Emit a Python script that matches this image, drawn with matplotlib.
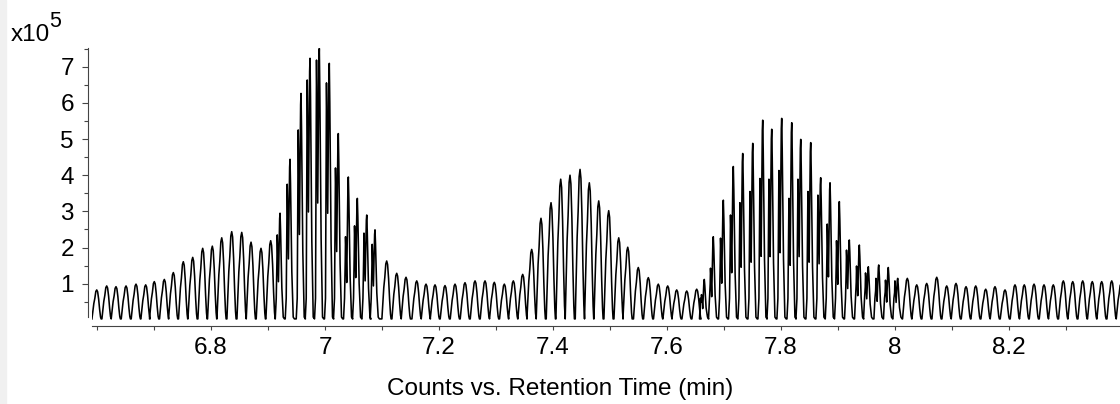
import matplotlib
matplotlib.use('Agg')
import matplotlib.pyplot as plt
from matplotlib.patches import Rectangle
from matplotlib.ticker import FixedLocator, NullFormatter

plt.rcParams['font.family'] = ['Liberation Sans', 'DejaVu Sans']

# apex retention time of each scan cycle (min)
rt = [6.5995, 6.6170, 6.6333, 6.6509, 6.6684, 6.6854, 6.7005, 6.7181, 6.7339, 6.7514,
      6.7679, 6.7854, 6.8023, 6.8188, 6.8363, 6.8539, 6.8702, 6.8877, 6.9047, 6.9211,
      6.9386, 6.9579, 6.9737, 6.9900, 7.0075, 7.0233, 7.0409, 7.0567, 7.0732, 7.0877,
      7.1082, 7.1258, 7.1421, 7.1609, 7.1772, 7.1930, 7.2105, 7.2281, 7.2456, 7.2632,
      7.2807, 7.2970, 7.3146, 7.3304, 7.3468, 7.3626, 7.3789, 7.3965, 7.4135, 7.4298,
      7.4474, 7.4637, 7.4802, 7.4977, 7.5153, 7.5311, 7.5496, 7.5672, 7.5847, 7.6012,
      7.6170, 7.6346, 7.6521, 7.6654, 7.6812, 7.6988, 7.7163, 7.7328, 7.7504, 7.7679,
      7.7837, 7.8012, 7.8188, 7.8346, 7.8521, 7.8696, 7.8860, 7.9023, 7.9198, 7.9374,
      7.9532, 7.9714, 7.9882, 8.0047, 8.0216, 8.0381, 8.0556, 8.0732, 8.0907, 8.1070,
      8.1246, 8.1416, 8.1591, 8.1754, 8.1930, 8.2105, 8.2268, 8.2439, 8.2614, 8.2777,
      8.2953, 8.3118, 8.3293, 8.3461, 8.3626, 8.3802, 8.3965]

# apex counts (x10^5)
apex = [0.83, 0.94, 0.92, 0.94, 0.99, 0.97, 1.06, 1.12, 1.31, 1.61,
        1.73, 1.98, 2.04, 2.27, 2.44, 2.42, 2.15, 1.98, 2.19, 2.95,
        4.44, 6.26, 7.23, 7.50, 7.09, 5.15, 3.95, 3.36, 2.90, 2.49,
        1.63, 1.29, 1.18, 1.08, 0.99, 0.97, 0.95, 0.99, 1.03, 1.08,
        1.08, 1.04, 0.99, 1.08, 1.26, 1.95, 2.81, 3.24, 3.89, 4.00,
        4.16, 3.79, 3.29, 3.02, 2.27, 2.01, 1.45, 1.17, 0.99, 0.94,
        0.83, 0.80, 0.85, 1.12, 2.30, 3.31, 4.24, 4.60, 4.88, 5.52,
        5.27, 5.57, 5.45, 4.99, 4.90, 3.93, 3.79, 3.27, 2.21, 2.07,
        1.47, 1.52, 1.45, 1.15, 1.15, 0.97, 1.01, 1.18, 0.94, 1.01,
        0.92, 0.94, 0.85, 0.92, 0.83, 0.97, 0.97, 0.99, 0.97, 0.97,
        1.08, 1.06, 1.08, 1.06, 1.06, 1.08, 1.00]

# second spike just before the apex (x10^5, 0 = none)
twin = [0, 0, 0, 0, 0, 0, 0, 0, 0, 0,
        0, 0, 0, 0, 0, 0, 0, 0, 0, 2.35,
        3.75, 5.25, 6.63, 7.18, 6.55, 4.20, 2.30, 2.60, 2.40, 2.09,
        0, 0, 0, 0, 0, 0, 0, 0, 0, 0,
        0, 0, 0, 0, 0, 0, 0, 0, 0, 0,
        0, 0, 0, 0, 0, 0, 0, 0, 0, 0,
        0, 0, 0, 0.70, 1.43, 2.26, 2.90, 3.24, 3.55, 3.91,
        3.89, 4.13, 3.36, 3.89, 3.55, 3.45, 2.65, 2.19, 1.93, 1.49,
        1.30, 1.15, 1.10, 1.08, 0, 0, 0, 0, 0, 0,
        0, 0, 0, 0, 0, 0, 0, 0, 0, 0,
        0, 0, 0, 0, 0, 0, 0]

x_major = [6.8, 7.0, 7.2, 7.4, 7.6, 7.8, 8.0, 8.2]
x_labels = ['6.8', '7', '7.2', '7.4', '7.6', '7.8', '8', '8.2']
x_minor = [6.6, 6.7, 6.9, 7.1, 7.3, 7.5, 7.7, 7.9, 8.1, 8.3]
y_major = [1, 2, 3, 4, 5, 6, 7]
y_minor = [0.5, 1.5, 2.5, 3.5, 4.5, 5.5, 6.5, 7.5]

W, H = 1120, 404
PX = 1 / 570.0  # minutes per pixel on the time axis
BASE = 0.03
FS = 17.5


def peak_outline(t, h, h2):
    # outline of one scan-cycle peak
    if h2 > 0:
        dx = [-4.8, -3.8, -3.1, -2.8, -2.5, -1.6, -0.4, 0, 0.5, 1.8, 3.2, 4.4]
        dy = [BASE, 0.6, 0.7 * h2, h2, 0.9 * h2, 0.45 * h2, 0.95 * h, h, 0.85 * h,
              0.3 * h, 0.08, BASE]
    else:
        dx = [-4.8, -3.8, -2.9, -1.9, -0.9, 0, 0.9, 1.9, 2.9, 3.8, 4.4]
        dy = [BASE, 0.3 * h, 0.55 * h, 0.72 * h, 0.95 * h, h, 0.94 * h, 0.7 * h,
              0.35 * h, 0.1 * h, BASE]
    return [t + d * PX for d in dx], dy


xs, ys = [], []
for t, h, h2 in zip(rt, apex, twin):
    px_, py_ = peak_outline(t, h, h2)
    xs += px_
    ys += py_

fig = plt.figure(figsize=(W / 100, H / 100), dpi=100)
fig.patches.append(Rectangle((0, 0), 6 / W, 1, transform=fig.transFigure,
                             color='#f0f0f0', zorder=0))

ax = fig.add_axes([92 / W, (H - 326) / H, (W - 92) / W, (326 - 48) / H])
ax.plot(xs, ys, color='black', lw=1.15)

ax.set_xlim(6.5912, 8.3947)
ax.set_ylim(-0.166, 7.514)

for s in ['top', 'right']:
    ax.spines[s].set_visible(False)
ax.spines['bottom'].set_color('#444444')
ax.spines['left'].set_color('#444444')
ax.spines['left'].set_position(('outward', 3))
ax.spines['left'].set_bounds(0.08, 7.514)

ax.xaxis.set_major_locator(FixedLocator(x_major))
ax.set_xticklabels(x_labels)
ax.xaxis.set_minor_locator(FixedLocator(x_minor))
ax.xaxis.set_minor_formatter(NullFormatter())
ax.yaxis.set_major_locator(FixedLocator(y_major))
ax.set_yticklabels([str(v) for v in y_major])
ax.yaxis.set_minor_locator(FixedLocator(y_minor))
ax.yaxis.set_minor_formatter(NullFormatter())

ax.tick_params(axis='x', which='both', length=3, width=0.8, color='#444444',
               labelsize=FS, pad=5)
ax.tick_params(axis='y', which='major', length=4, width=0.8, color='#444444',
               labelsize=FS, pad=6)
ax.tick_params(axis='y', which='minor', length=3, width=0.8, color='#444444')

fig.text(0.5, 1 - 389 / H, 'Counts vs. Retention Time (min)', ha='center',
         va='center', fontsize=FS)
# multiplier label: "x10" with a raised "5"
fig.text(11 / W, 1 - 41 / H, 'x10', ha='left', va='baseline', fontsize=FS)
fig.text(49 / W, 1 - 27 / H, '5', ha='left', va='baseline', fontsize=FS - 2)

fig.savefig('out.png', dpi=100)
